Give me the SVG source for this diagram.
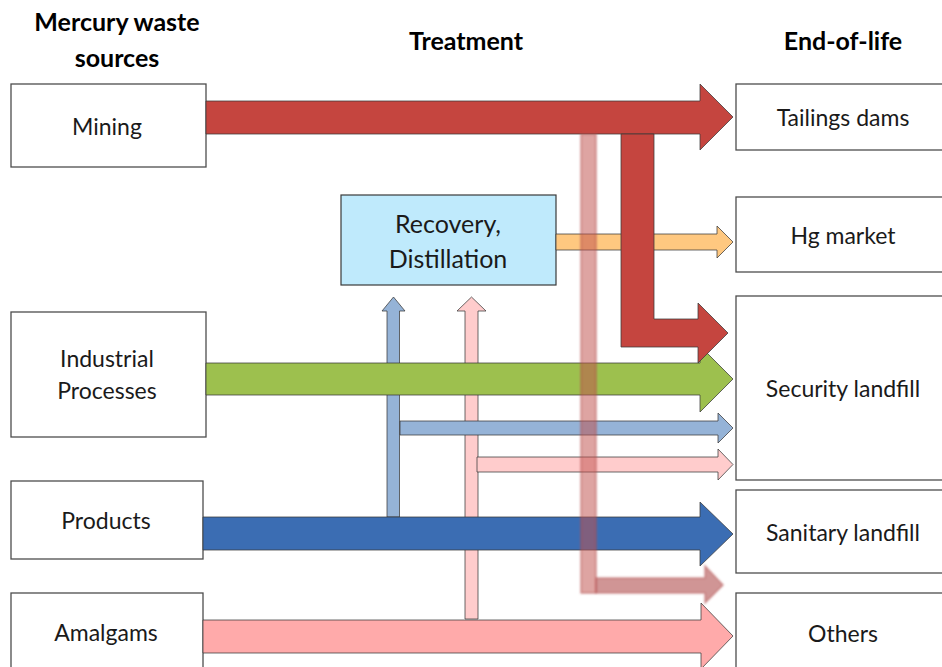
<svg xmlns="http://www.w3.org/2000/svg" width="942" height="667" viewBox="0 0 942 667">
<style>
.box{fill:#fff;stroke:#4d4d4d;stroke-width:1.3}
.lbl{font-family:Lato,"Liberation Sans",sans-serif;font-size:23px;fill:#1a1a1a;text-anchor:middle}
.big{font-size:25px}
.hdr{font-family:Lato,"Liberation Sans",sans-serif;font-size:25px;font-weight:bold;fill:#000;text-anchor:middle}
.arr{stroke:#3a3a3a;stroke-width:1;stroke-opacity:0.75}
</style>
<defs>
<filter id="soft" x="-10%" y="-10%" width="120%" height="120%"><feGaussianBlur stdDeviation="0.9"/></filter>
</defs>
<rect width="942" height="667" fill="#fff"/>
<g id="headers">
<text class="hdr" x="117" y="31">Mercury waste</text>
<text class="hdr" x="117" y="67">sources</text>
<text class="hdr" x="466" y="50">Treatment</text>
<text class="hdr" x="843" y="50">End-of-life</text>
</g>
<g id="node-mining"><rect class="box" x="11" y="84" width="195" height="83"/><text class="lbl" x="107" y="135">Mining</text></g>
<g id="node-industrial"><rect class="box" x="11" y="312" width="195" height="125"/><text class="lbl" x="107" y="367">Industrial</text><text class="lbl" x="107" y="399">Processes</text></g>
<g id="node-products"><rect class="box" x="11" y="481" width="192" height="78"/><text class="lbl" x="106" y="529">Products</text></g>
<g id="node-amalgams"><rect class="box" x="11" y="593" width="192" height="80"/><text class="lbl" x="106" y="641">Amalgams</text></g>
<g id="node-tailings"><rect class="box" x="736" y="84" width="210" height="66"/><text class="lbl" x="843" y="126">Tailings dams</text></g>
<g id="node-hgmarket"><rect class="box" x="736" y="197" width="210" height="75"/><text class="lbl" x="843" y="244">Hg market</text></g>
<g id="node-security"><rect class="box" x="736" y="296" width="210" height="184"/><text class="lbl" x="843" y="397">Security landfill</text></g>
<g id="node-sanitary"><rect class="box" x="736" y="490" width="210" height="83"/><text class="lbl" x="843" y="541">Sanitary landfill</text></g>
<g id="node-others"><rect class="box" x="736" y="593" width="210" height="80"/><text class="lbl" x="843" y="642">Others</text></g>
<g id="node-recovery"><rect x="341" y="195" width="215" height="90" fill="#bfeafc" stroke="#3a3a3a" stroke-width="1.2"/><text class="lbl big" x="448" y="233">Recovery,</text><text class="lbl big" x="448" y="268">Distillation</text></g>
<g id="connectors">
<path class="arr" fill="#ffc880" d="M556,234 H717 V226 L733,242 L717,258 V250 H556 Z"/>
<path class="arr" fill="#95b3d7" d="M387,517 V311 H382 L393.5,297 L405,311 H399.5 V517 Z"/>
<path class="arr" fill="#ffcccc" d="M465,619 V311 H457 L471.5,297 L486,311 H478 V619 Z"/>
<path class="arr" fill="#95b3d7" d="M400,421 H718 V413 L733,428 L718,443 V435 H400 Z"/>
<path class="arr" fill="#ffcccc" d="M477,457 H718 V449 L733,464.5 L718,480 V472 H477 Z"/>
<path class="arr" fill="#c5453f" d="M206,101 H700 V84 L733,117 L700,150 V134 H206 Z"/>
<path class="arr" fill="#9dc04e" d="M206,363 H700 V346 L733,379 L700,412 V395 H206 Z"/>
<path class="arr" fill="#3b6db3" d="M203,517 H700 V502 L733,534 L700,566 V550 H203 Z"/>
<path class="arr" fill="#ffaaaa" d="M203,620 H701 V603 L733,636 L701,669 V653 H203 Z"/>
<path class="arr" fill="#c5453f" d="M621,134 H654 V319 H698 V303 L728,333 L698,363 V347 H621 Z"/>
<g filter="url(#soft)">
<path fill="#b05050" fill-opacity="0.6" stroke="#b04848" stroke-opacity="0.5" stroke-width="1.5" d="M596,578 H705 V566 L723,585 L705,603 V593 H596 Z"/>
<rect x="581" y="134" width="15" height="459" fill="#c0504d" fill-opacity="0.52" stroke="#b04848" stroke-opacity="0.55" stroke-width="1.5"/>
</g>
</g>
</svg>
